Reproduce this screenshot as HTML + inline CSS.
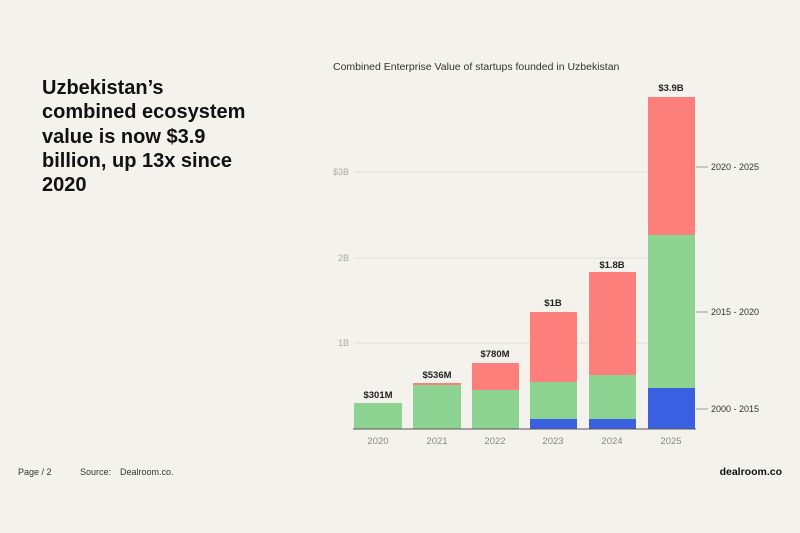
<!DOCTYPE html>
<html><head><style>
body{margin:0;background:#f3f2ec;font-family:"Liberation Sans",sans-serif;}
</style></head><body>
<svg width="800" height="533" xmlns="http://www.w3.org/2000/svg" style="display:block">
<rect width="800" height="533" fill="#f3f2ec"/>
<g font-size="20" font-weight="bold" fill="#111">
<text x="42" y="94">Uzbekistan’s</text>
<text x="42" y="118">combined ecosystem</text>
<text x="42" y="143">value is now $3.9</text>
<text x="42" y="167">billion, up 13x since</text>
<text x="42" y="191">2020</text>
</g>
<text font-size="10.5" fill="#333" x="333" y="70">Combined Enterprise Value of startups founded in Uzbekistan</text>
<g stroke="#e0dfd9" stroke-width="1">
<line x1="354" x2="695" y1="172" y2="172"/><line x1="354" x2="695" y1="258" y2="258"/><line x1="354" x2="695" y1="343" y2="343"/>
</g>
<g font-size="9" fill="#aaa" text-anchor="end">
<text x="349" y="175">$3B</text><text x="349" y="261">2B</text><text x="349" y="346">1B</text>
</g>
<g>
<rect x="354" y="403" width="48" height="26" fill="#8dd391"/>
<rect x="413" y="383" width="48" height="2" fill="#fc7f7b"/><rect x="413" y="385" width="48" height="44" fill="#8dd391"/>
<rect x="472" y="363" width="47" height="27" fill="#fc7f7b"/><rect x="472" y="390" width="47" height="39" fill="#8dd391"/>
<rect x="530" y="312" width="47" height="70" fill="#fc7f7b"/><rect x="530" y="382" width="47" height="37" fill="#8dd391"/><rect x="530" y="419" width="47" height="10" fill="#3a5fe0"/>
<rect x="589" y="272" width="47" height="103" fill="#fc7f7b"/><rect x="589" y="375" width="47" height="44" fill="#8dd391"/><rect x="589" y="419" width="47" height="10" fill="#3a5fe0"/>
<rect x="648" y="97" width="47" height="138" fill="#fc7f7b"/><rect x="648" y="235" width="47" height="153" fill="#8dd391"/><rect x="648" y="388" width="47" height="41" fill="#3a5fe0"/>
</g>
<line x1="353" x2="696" y1="429" y2="429" stroke="#555" stroke-width="1"/>
<g font-size="9.5" font-weight="bold" fill="#222" text-anchor="middle">
<text x="378" y="398">$301M</text><text x="437" y="378">$536M</text><text x="495" y="357">$780M</text>
<text x="553" y="306">$1B</text><text x="612" y="268">$1.8B</text><text x="671" y="91">$3.9B</text>
</g>
<g font-size="9.5" fill="#888" text-anchor="middle">
<text x="378" y="444">2020</text><text x="437" y="444">2021</text><text x="495" y="444">2022</text>
<text x="553" y="444">2023</text><text x="612" y="444">2024</text><text x="671" y="444">2025</text>
</g>
<g stroke="#999"><line x1="696" x2="708" y1="167" y2="167"/><line x1="696" x2="708" y1="312" y2="312"/><line x1="696" x2="708" y1="409" y2="409"/></g>
<g font-size="9" fill="#333">
<text x="711" y="170">2020 - 2025</text><text x="711" y="315">2015 - 2020</text><text x="711" y="412">2000 - 2015</text>
</g>
<text font-size="9" fill="#333" x="18" y="475">Page / 2</text>
<text font-size="9" fill="#333" x="80" y="475">Source:</text>
<text font-size="9" fill="#333" x="120" y="475">Dealroom.co.</text>
<text font-size="10.5" font-weight="bold" fill="#111" x="782" y="475" text-anchor="end">dealroom.co</text>
</svg>
</body></html>
